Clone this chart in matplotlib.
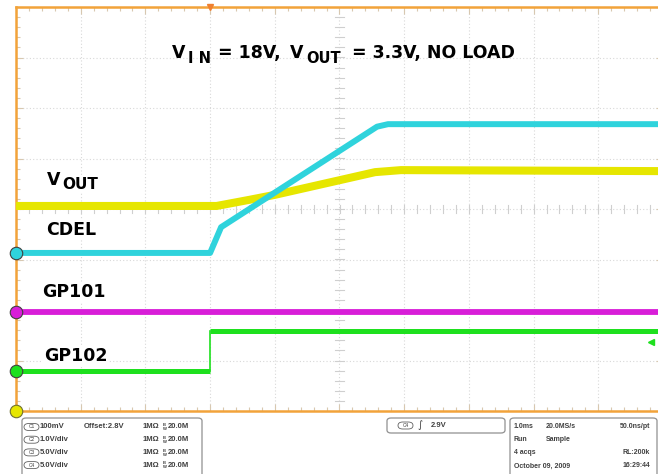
import numpy as np
import matplotlib
matplotlib.use('Agg')
import matplotlib.pyplot as plt
from matplotlib.patches import FancyBboxPatch

plt.rcParams['font.family'] = ['Liberation Sans', 'DejaVu Sans']

## channel data (time in ms, values in volts)
vout_t = [-3.0, 0.10, 0.60, 1.00, 2.00, 2.55, 2.95, 7.0]
vout_v = [3.206, 3.206, 3.218, 3.228, 3.257, 3.273, 3.277, 3.275]

cdel_t = [-3.0, 0.00, 0.17, 2.58, 2.75, 7.0]
cdel_v = [0.0, 0.0, 0.51, 2.50, 2.55, 2.55]

gp101_t = [-3.0, 7.0]
gp101_v = [0.0, 0.0]

gp102_t = [-3.0, 0.0, 0.0, 7.0]
gp102_v = [0.0, 0.0, 3.96, 3.96]

# scope settings: volts/div, offset (V), ground position (div)
scale = {'C1': 0.1, 'C2': 1.0, 'C3': 5.0, 'C4': 5.0}
offset = {'C1': 2.8, 'C2': 0.0, 'C3': 0.0, 'C4': 0.0}
pos = {'C1': -4.0, 'C2': -0.87, 'C3': -2.04, 'C4': -3.21}
trig_level = 2.9  # C4

colors = {'C1': '#e6e600', 'C2': '#2fd3dc', 'C3': '#d81ed8', 'C4': '#1ee01e'}
orange = '#f2a33a'

W, H = 658, 474
fig = plt.figure(figsize=(W / 100, H / 100), dpi=100)
fig.patch.set_facecolor('white')


def fx(x):
    return x / W


def fy(y):
    return 1 - y / H


def to_div(ch, v):
    return (np.asarray(v) - offset[ch]) / scale[ch] + pos[ch]


ax = fig.add_axes([fx(16), fy(411), 647 / W, 404 / H])
ax.set_xlim(-3, 7)
ax.set_ylim(-4, 4)

# graticule
for xv in np.arange(-3, 8, 1):
    ax.axvline(xv, color='#d8d8d8', lw=0.8, ls=(0, (1, 2)), zorder=0)
for yv in np.arange(-4, 5, 1):
    ax.axhline(yv, color='#d8d8d8', lw=0.8, ls=(0, (1, 2)), zorder=0)
for k in np.arange(-4, 4.01, 0.2):
    ax.plot([1.93, 2.07], [k, k], color='#cfcfcf', lw=0.8, zorder=0)
for k in np.arange(-3, 7.01, 0.2):
    ax.plot([k, k], [-0.07, 0.07], color='#cfcfcf', lw=0.8, zorder=0)

ax.set_xticks(np.arange(-3, 8, 1))
ax.set_yticks(np.arange(-4, 5, 1))
ax.set_xticks(np.arange(-3, 7.01, 0.2), minor=True)
ax.set_yticks(np.arange(-4, 4.01, 0.2), minor=True)
ax.tick_params(which='both', direction='in', top=True, right=True,
               labelbottom=False, labelleft=False, color='#d8c8b0')
ax.tick_params(which='major', length=5, width=0.8)
ax.tick_params(which='minor', length=3, width=0.8)
for s in ax.spines.values():
    s.set_color(orange)
    s.set_linewidth(1.8)

# traces
g = to_div('C4', gp102_v)
ax.plot(gp102_t[:2], g[:2], color=colors['C4'], lw=3.6, zorder=3, solid_capstyle='butt')
ax.plot(gp102_t[1:3], g[1:3], color=colors['C4'], lw=1.2, zorder=3)
ax.plot(gp102_t[2:], g[2:], color=colors['C4'], lw=3.6, zorder=3, solid_capstyle='butt')
ax.plot(gp101_t, to_div('C3', gp101_v), color=colors['C3'], lw=4.2, zorder=3)
ax.plot(vout_t, to_div('C1', vout_v), color=colors['C1'], lw=5.8, zorder=4,
        solid_capstyle='butt')
ax.plot(cdel_t, to_div('C2', cdel_v), color=colors['C2'], lw=4.3, zorder=5,
        solid_capstyle='butt')

# ground markers
for ch in ['C1', 'C2', 'C3', 'C4']:
    ax.plot([-3], [pos[ch]], marker='o', ms=9, mfc=colors[ch],
            mec='#707030' if ch == 'C1' else '#404040',
            mew=0.8, clip_on=False, zorder=6)

# trigger markers
ax.plot([0], [4], marker='v', ms=5, color='#f08030', clip_on=False, zorder=6)
ax.plot([6.82], [to_div('C4', trig_level)], marker='<', ms=4, color=colors['C4'],
        clip_on=False, zorder=6)

# labels
bb = dict(facecolor='white', edgecolor='none', pad=1)


def lab(x, y, s, size=12.5, box=False):
    fig.text(fx(x), fy(y), s, fontsize=size, fontweight='bold', va='baseline',
             family='DejaVu Sans', bbox=bb if box else None, zorder=7)


lab(172, 58, 'V')
lab(188, 63, 'I N', 10.5)
lab(218, 58, '= 18V,')
lab(290, 58, 'V')
lab(306, 63, 'OUT', 10.5)
lab(352, 58, '= 3.3V, NO LOAD')

lab(47, 185, 'V', 12.5, True)
lab(62, 189, 'OUT', 11, True)
lab(46, 235, 'CDEL', 12.5, True)
lab(42, 297, 'GP101', 12.5, True)
lab(44, 361, 'GP102', 12.5, True)

# info panel at bottom
tc = '#404040'
fs = 5.5
fs2 = 5.0


def box(x0, y0, x1, y1, r=4):
    p = FancyBboxPatch((fx(x0), fy(y1)), fx(x1) - fx(x0), fy(y0) - fy(y1),
                       boxstyle='round,pad=0,rounding_size=%f' % (r / W),
                       transform=fig.transFigure, fc='white', ec='#909090', lw=0.9)
    fig.add_artist(p)


def pill(x, y, label):
    p = FancyBboxPatch((fx(x), fy(y + 3.5)), fx(15), 7 / H,
                       boxstyle='round,pad=0,rounding_size=%f' % (3.5 / H),
                       transform=fig.transFigure, fc='white', ec='#606060', lw=0.6)
    fig.add_artist(p)
    fig.text(fx(x + 7.5), fy(y), label, fontsize=3.5, ha='center', va='center', color=tc)


box(22, 418, 202, 480)
rows = [('C1', '100mV', 'Offset:2.8V'), ('C2', '1.0V/div', ''),
        ('C3', '5.0V/div', ''), ('C4', '5.0V/div', '')]
for i, (ch, sc, off) in enumerate(rows):
    y = 427 + i * 12.7
    pill(24, y, ch)
    fig.text(fx(40), fy(y), sc, fontsize=fs, color=tc, fontweight='bold', va='center')
    fig.text(fx(84), fy(y), off, fontsize=fs, color=tc, fontweight='bold', va='center')
    fig.text(fx(143), fy(y), '1MΩ', fontsize=fs, color=tc, fontweight='bold', va='center')
    fig.text(fx(163), fy(y - 1.8), 'B', fontsize=3, color=tc, fontweight='bold', va='center')
    fig.text(fx(163), fy(y + 2.2), 'W', fontsize=3, color=tc, fontweight='bold', va='center')
    fig.text(fx(168), fy(y), '20.0M', fontsize=fs, color=tc, fontweight='bold', va='center')

box(387, 418, 505, 433)
pill(398, 425.5, 'C4')
fig.text(fx(417), fy(425.5), '∫', fontsize=7, color=tc, va='center', family='DejaVu Sans')
fig.text(fx(431), fy(425.5), '2.9V', fontsize=fs, color=tc, fontweight='bold', va='center')

box(510, 418, 657, 480)
info = [('1.0ms', '20.0MS/s', '50.0ns/pt'), ('Run', 'Sample', ''),
        ('4 acqs', '', 'RL:200k'), ('October 09, 2009', '', '16:29:44')]
for i, (a, b, c) in enumerate(info):
    y = 426 + i * 13.3
    fig.text(fx(514), fy(y), a, fontsize=fs2, color=tc, fontweight='bold', va='center')
    fig.text(fx(546), fy(y), b, fontsize=fs2, color=tc, fontweight='bold', va='center')
    fig.text(fx(650), fy(y), c, fontsize=fs2, color=tc, fontweight='bold', va='center', ha='right')

plt.savefig('out.png', dpi=100)
